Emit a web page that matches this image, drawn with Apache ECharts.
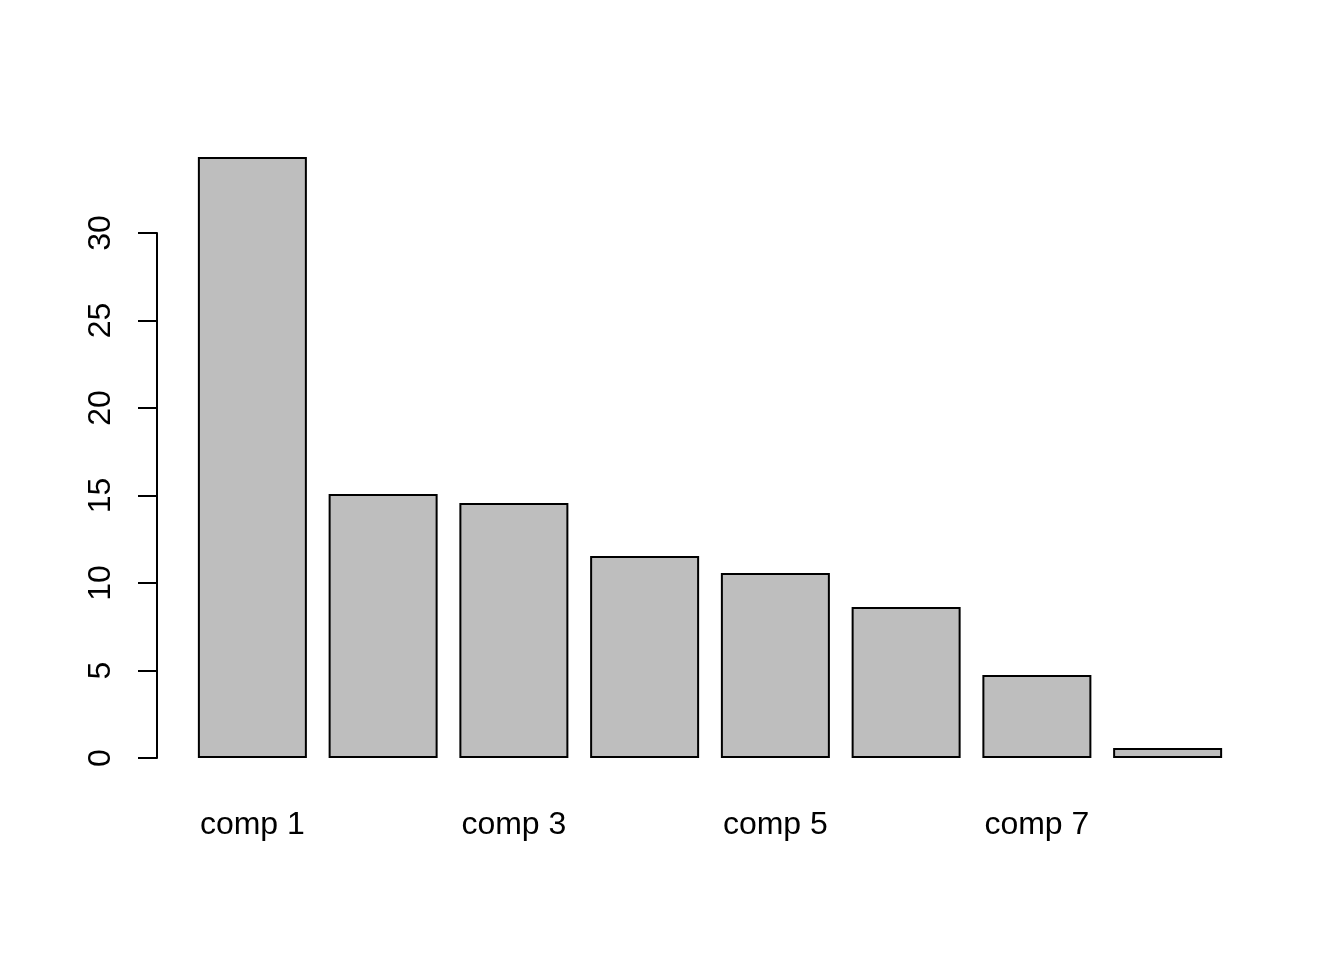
<!DOCTYPE html>
<html>
<head>
<meta charset="utf-8">
<script src="https://cdn.jsdelivr.net/npm/echarts@6/dist/echarts.min.js"></script>
<style>html,body{margin:0;padding:0;background:#fff;}#c{width:1344px;height:960px;}</style>
</head>
<body>
<div id="c"></div>
<script>
const categories = ['comp 1','comp 2','comp 3','comp 4','comp 5','comp 6','comp 7','comp 8'];
const values = [34.34, 15.09, 14.57, 11.54, 10.57, 8.63, 4.74, 0.57];
const yTicks = [0, 5, 10, 15, 20, 25, 30];

const chart = echarts.init(document.getElementById('c'), null, {renderer: 'canvas'});
chart.setOption({
  backgroundColor: '#ffffff',
  animation: false,
  grid: {left: 187, right: 111, top: 233, bottom: 202, containLabel: false},
  xAxis: {
    type: 'category',
    data: categories,
    axisLine: {show: false},
    axisTick: {show: false},
    axisLabel: {interval: 1, fontSize: 32, color: '#000', fontFamily: 'Liberation Sans, Arial, sans-serif', margin: 51}
  },
  yAxis: {
    type: 'value',
    min: yTicks[0],
    max: yTicks[yTicks.length - 1],
    interval: 5,
    offset: 30,
    splitLine: {show: false},
    axisLine: {show: true, lineStyle: {color: '#000', width: 2}},
    axisTick: {show: true, length: 19, lineStyle: {color: '#000', width: 2}},
    axisLabel: {rotate: 90, fontSize: 32, color: '#000', fontFamily: 'Liberation Sans, Arial, sans-serif', margin: 40}
  },
  series: [{
    type: 'bar',
    data: values,
    barWidth: 109,
    clip: false,
    itemStyle: {color: '#BEBEBE', borderColor: '#000', borderWidth: 2}
  }]
});
</script>
</body>
</html>
